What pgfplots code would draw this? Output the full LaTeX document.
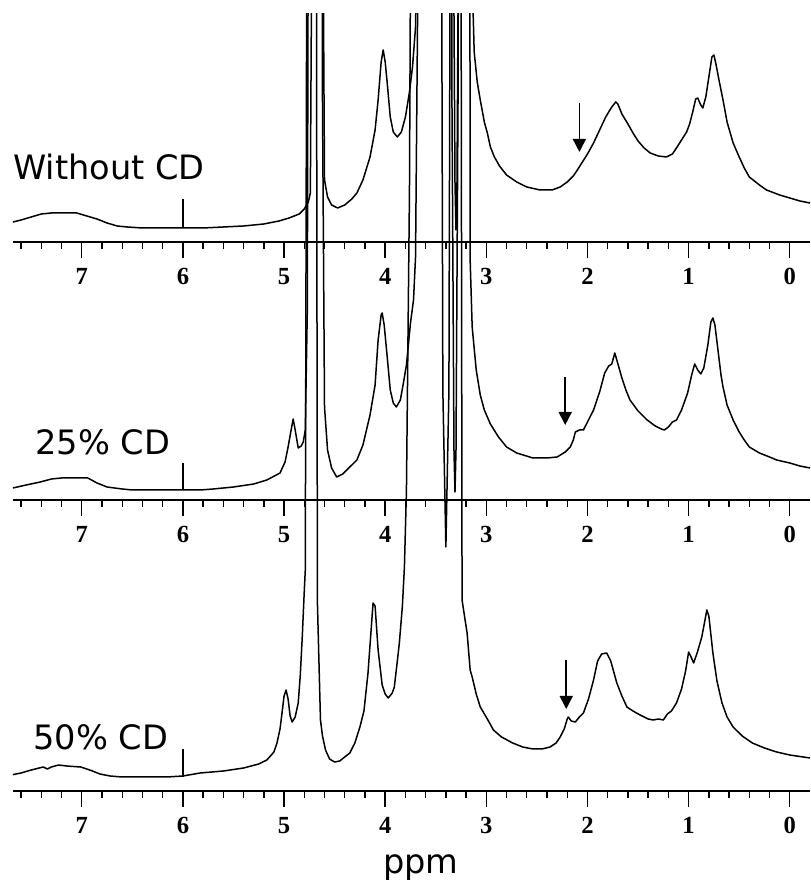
\documentclass[border=0pt]{standalone}
\usepackage{fontspec}
\setmainfont{Liberation Serif}
\newfontfamily\labelfont{DejaVu Sans}
\usepackage{pgfplots}
\pgfplotsset{compat=1.18}
\usetikzlibrary{arrows.meta}

% spectra: chemical shift (ppm) vs. intensity (arbitrary units above each baseline)
\pgfplotstableread{
x y
7.68 20
7.60 22
7.50 25
7.40 28
7.30 29
7.15 29
7.05 29
6.95 26
6.85 23
6.75 19
6.65 16
6.55 15
6.40 14
6.20 14
6.00 14
5.80 14
5.60 15
5.40 16
5.20 18
5.05 21
4.95 24
4.85 28
4.80 33
4.76 40
4.74 49
4.72 400
4.70 1500
4.64 1500
4.62 400
4.60 62
4.57 45
4.53 37
4.47 34
4.40 37
4.33 43
4.28 49
4.22 62
4.15 85
4.10 112
4.07 142
4.04 180
4.02 192
4.00 180
3.98 159
3.95 125
3.92 110
3.88 105
3.84 110
3.80 125
3.76 150
3.73 175
3.70 215
3.67 400
3.64 1500
3.36 1500
3.33 400
3.31 60
3.30 12
3.29 60
3.27 400
3.24 1500
3.17 1500
3.15 300
3.12 190
3.09 160
3.06 142
3.02 120
2.99 109
2.96 95
2.92 85
2.87 76
2.80 67
2.70 60
2.60 55
2.47 52
2.35 52
2.27 55
2.20 60
2.14 66
2.10 72
2.05 80
2.00 88
1.94 99
1.88 112
1.82 125
1.76 135
1.72 140
1.70 138
1.66 128
1.60 118
1.55 109
1.50 101
1.44 94
1.38 89
1.30 86
1.22 85
1.16 88
1.12 94
1.07 102
1.02 110
0.99 118
0.96 130
0.93 143
0.91 144
0.88 137
0.86 134
0.83 145
0.80 165
0.77 185
0.75 187
0.73 178
0.70 162
0.66 142
0.62 120
0.56 99
0.50 85
0.45 74
0.40 65
0.30 57
0.23 52
0.10 47
0.00 44
-0.10 41
-0.20 39
}\specA

\pgfplotstableread{
x y
7.68 12
7.55 15
7.41 18
7.30 21
7.20 22
7.05 22
6.94 22
6.85 17
6.75 13
6.60 11
6.50 10
6.20 10
5.83 10
5.70 11
5.50 13
5.30 16
5.17 20
5.04 27
4.99 38
4.96 53
4.93 70
4.91 81
4.89 70
4.86 52
4.83 54
4.81 58
4.79 70
4.77 190
4.74 1500
4.64 1500
4.62 400
4.60 93
4.57 50
4.53 32
4.48 23
4.42 26
4.35 33
4.28 40
4.22 55
4.15 85
4.10 115
4.07 160
4.04 185
4.03 187
4.01 175
3.98 143
3.95 110
3.92 97
3.89 93
3.85 100
3.82 117
3.79 135
3.75 177
3.72 200
3.70 243
3.67 600
3.64 1500
3.36 1500
3.34 400
3.32 50
3.31 8
3.30 50
3.28 400
3.25 1500
3.17 1500
3.16 240
3.14 173
3.10 130
3.06 105
3.02 90
2.96 76
2.88 63
2.80 53
2.70 47
2.54 42
2.40 42
2.30 43
2.22 48
2.17 53
2.14 60
2.12 68
2.08 70
2.04 70
2.00 78
1.94 90
1.88 108
1.83 127
1.79 134
1.76 136
1.73 147
1.71 140
1.66 122
1.62 110
1.58 100
1.50 89
1.41 80
1.33 74
1.27 71
1.24 70
1.20 73
1.16 78
1.12 80
1.07 90
1.01 107
0.97 125
0.94 136
0.91 130
0.88 126
0.85 132
0.81 155
0.78 178
0.76 182
0.74 175
0.71 150
0.68 125
0.66 113
0.62 95
0.56 80
0.50 68
0.45 60
0.40 53
0.30 47
0.20 43
0.13 40
0.00 37
-0.10 34
-0.20 32
}\specB

\pgfplotstableread{
x y
7.70 16
7.60 18
7.50 21
7.38 24
7.34 22
7.30 24
7.23 26
7.15 25
7.01 24
6.92 21
6.82 17
6.72 15
6.60 14
6.40 14
6.16 14
6.00 15
5.83 18
5.60 20
5.40 23
5.25 27
5.17 31
5.10 39
5.07 48
5.04 62
5.02 78
5.00 95
4.98 101
4.96 92
4.94 75
4.92 69
4.89 74
4.86 88
4.84 115
4.82 154
4.80 200
4.79 221
4.76 1500
4.69 1500
4.67 188
4.64 71
4.62 55
4.59 41
4.55 32
4.50 29
4.45 30
4.40 34
4.35 38
4.30 48
4.25 64
4.21 80
4.17 118
4.14 160
4.12 188
4.10 185
4.07 141
4.03 106
4.00 97
3.97 93
3.93 98
3.91 104
3.88 130
3.86 148
3.83 185
3.81 224
3.79 300
3.76 600
3.72 1500
3.46 1500
3.43 400
3.40 244
3.37 400
3.34 1500
3.26 1500
3.24 191
3.21 171
3.19 158
3.16 121
3.14 114
3.10 97
3.06 84
2.99 72
2.93 61
2.85 54
2.74 48
2.64 44
2.54 42
2.45 42
2.37 44
2.31 48
2.27 54
2.23 62
2.20 72
2.19 74
2.16 70
2.12 69
2.08 74
2.04 78
1.99 92
1.94 111
1.90 130
1.86 137
1.81 138
1.77 130
1.71 108
1.66 95
1.61 84
1.55 80
1.48 76
1.40 72
1.35 71
1.30 72
1.25 71
1.21 77
1.17 80
1.12 88
1.07 102
1.03 120
1.00 139
0.98 135
0.95 128
0.91 140
0.87 154
0.84 170
0.82 181
0.80 175
0.76 138
0.72 110
0.67 88
0.62 74
0.56 64
0.47 55
0.37 48
0.25 43
0.13 39
0.00 36
-0.20 33
}\specC

\pgfplotsset{
  spec/.style={
    scale only axis, width=398.5pt,
    xmin=-0.2, xmax=7.68, x dir=reverse, ymin=0,
    axis x line=bottom, axis y line=none,
    axis line style={-, line width=0.85pt},
    xtick={0,...,7},
    minor xtick={0.2,0.4,0.6,0.8,1.2,1.4,1.6,1.8,2.2,2.4,2.6,2.8,3.2,3.4,3.6,3.8,4.2,4.4,4.6,4.8,5.2,5.4,5.6,5.8,6.2,6.4,6.6,6.8,7.2,7.4,7.6},
    tick align=outside, major tick length=8pt, minor tick length=3.5pt,
    every tick/.style={black, line width=0.7pt},
    /pgf/number format/assume math mode=true,
    xticklabel style={font=\fontsize{12.3}{14}\selectfont\bfseries, inner sep=0pt},
    xticklabel shift=5pt,
    anchor=south west, clip=true,
  },
  trace/.style={black, line width=0.75pt, no markers, line join=round},
}
\tikzset{pointer/.style={black, line width=0.8pt, -{Triangle[length=6.5pt,width=6.5pt]}}}

\begin{document}
\begin{tikzpicture}
\path[use as bounding box] (0,0) rectangle (405pt,440.5pt);

% without CD
\begin{axis}[spec, at={(6.5pt,319.5pt)}, height=114pt, ymax=228]
  \addplot[trace] table[x=x,y=y] {\specA};
  \addplot[trace] coordinates {(6.0,14) (6.0,43)};
  \draw[pointer] (axis cs:2.08,139) -- (axis cs:2.08,90);
\end{axis}

% 25 % CD
\begin{axis}[spec, at={(6.5pt,190.5pt)}, height=243pt, ymax=486]
  \addplot[trace] table[x=x,y=y] {\specB};
  \addplot[trace] coordinates {(6.0,10) (6.0,37)};
  \draw[pointer] (axis cs:2.22,123) -- (axis cs:2.22,75);
\end{axis}

% 50 % CD
\begin{axis}[spec, at={(6.5pt,45pt)}, height=388.5pt, ymax=777]
  \addplot[trace] table[x=x,y=y] {\specC};
  \addplot[trace] coordinates {(6.0,14) (6.0,42)};
  \draw[pointer] (axis cs:2.21,131) -- (axis cs:2.21,82);
\end{axis}

\begin{scope}[every node/.style={inner sep=0pt, font=\labelfont\fontsize{16.8}{18}\selectfont}]
  \node[anchor=base west] at (6.5pt,350.5pt) {Without CD};
  \node[anchor=base west] at (17.5pt,213pt) {25\% CD};
  \node[anchor=base west] at (16.5pt,65.5pt) {50\% CD};
  \node[anchor=base] at (210.5pt,3.5pt) {ppm};
\end{scope}
\end{tikzpicture}
\end{document}
